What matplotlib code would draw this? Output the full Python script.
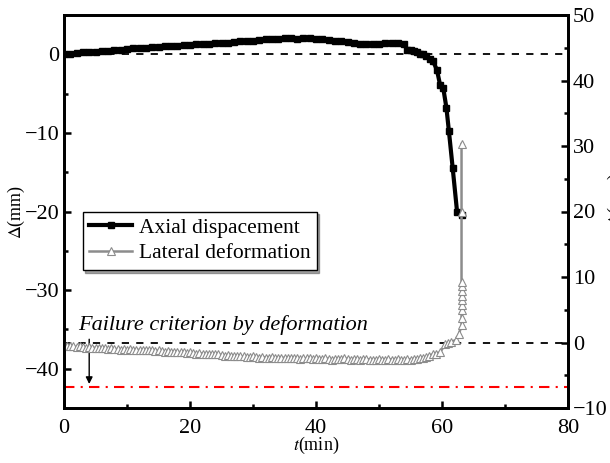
import matplotlib
matplotlib.use("Agg")
import matplotlib.pyplot as plt
import numpy as np

plt.rcParams['font.family'] = ['Liberation Serif', 'DejaVu Serif']
plt.rcParams['mathtext.fontset'] = 'stix'

# axial displacement (left axis, mm), 1-min samples on the flat part
axial_flat = [0.05, 0.1, 0.15, 0.25, 0.3, 0.35, 0.4, 0.45, 0.55, 0.6,
              0.7, 0.75, 0.8, 0.85, 0.9, 0.95, 1.0, 1.05, 1.1, 1.15,
              1.2, 1.25, 1.3, 1.35, 1.4, 1.45, 1.5, 1.6, 1.65, 1.7,
              1.75, 1.85, 1.9, 1.95, 2.0, 2.05, 2.05, 2.0, 2.05, 2.05,
              2.0, 1.9, 1.8, 1.75, 1.7, 1.6, 1.4, 1.3, 1.3, 1.3,
              1.35, 1.4, 1.45, 1.45, 1.3]
axial_drop_t = [54.5, 55.0, 55.5, 56.0, 56.5, 57.0, 57.5, 58.1, 58.6,
                59.2, 59.7, 60.2, 60.7, 61.1, 61.7, 62.4, 63.2]
axial_drop = [0.6, 0.55, 0.4, 0.3, 0.1, 0.0, -0.2, -0.55, -0.9,
              -2.0, -3.9, -4.3, -6.8, -9.8, -14.5, -20.1, -20.4]

# lateral deformation (right axis, mm), 0.5-min samples on the flat part
lateral_flat = [-0.3, -0.5, -0.6, -0.6, -0.7, -0.6, -0.7, -0.8, -0.7, -0.8, -0.8,
                -0.9, -0.8, -0.9, -1.0, -0.9, -1.0, -1.0, -1.1, -1.0, -1.1,
                -1.0, -1.1, -1.2, -1.1, -1.2, -1.2, -1.1, -1.2, -1.3, -1.2,
                -1.3, -1.4, -1.3, -1.4, -1.5, -1.4, -1.5, -1.5, -1.6, -1.5,
                -1.6, -1.7, -1.6, -1.7, -1.8, -1.7, -1.8, -1.8, -1.8, -1.9,
                -2.0, -1.9, -2.0, -2.1, -2.0, -2.1, -2.1, -2.2, -2.2, -2.1,
                -2.2, -2.3, -2.2, -2.3, -2.3, -2.2, -2.3, -2.3, -2.4, -2.3,
                -2.4, -2.4, -2.3, -2.4, -2.5, -2.4, -2.4, -2.4, -2.5, -2.4,
                -2.5, -2.5, -2.4, -2.5, -2.6, -2.5, -2.5, -2.5, -2.4, -2.5,
                -2.6, -2.5, -2.5, -2.6, -2.5, -2.5, -2.6, -2.6, -2.6, -2.5,
                -2.6, -2.6, -2.5, -2.6, -2.6, -2.5, -2.6, -2.6, -2.5, -2.6,
                -2.5, -2.5, -2.4, -2.3, -2.2, -2.0, -1.8, -1.7]
lateral_rise_t = [59.7, 60.5, 61.0, 61.5, 62.2, 62.7, 63.1, 63.1, 63.1, 63.1,
                  63.1, 63.1, 63.1, 63.1, 63.1, 63.1, 63.1]
lateral_rise = [-1.5, -0.3, -0.1, 0.1, 0.4, 1.3, 2.6, 3.8, 4.9, 5.7,
                6.5, 7.1, 7.8, 8.6, 9.2, 19.9, 30.3]

criterion = -42.3   # left axis value of the red line

t_ax = np.concatenate([np.arange(len(axial_flat)) * 1.0, axial_drop_t])
y_ax = np.concatenate([axial_flat, axial_drop])
t_lat = np.concatenate([np.arange(len(lateral_flat)) * 0.5, lateral_rise_t])
y_lat = np.concatenate([lateral_flat, lateral_rise])

fig = plt.figure(figsize=(6.1, 4.63), dpi=100)
ax = fig.add_axes([64/610, 1-408/463, 504/610, 393/463])
ax2 = ax.twinx()

# reference lines
ax.axhline(0, color='black', lw=1.3, ls=(0, (4, 4)), zorder=1)
ax2.axhline(0, color='black', lw=1.3, ls=(0, (4, 4)), zorder=1)
ax.axhline(criterion, color='red', lw=1.5, ls=(0, (5, 3, 1, 3)), zorder=1)

l1, = ax.plot(t_ax, y_ax, color='black', lw=3, marker='s', ms=4,
              label='Axial dispacement', zorder=3)
l2, = ax2.plot(t_lat, y_lat, color='#8c8c8c', lw=1.8, marker='^', ms=5.5,
               mfc='white', mec='#8c8c8c', mew=0.8, label='Lateral deformation')

ax.set_xlim(0, 80)
ax.set_ylim(-45, 5)
ax2.set_ylim(-10, 50)
ax.set_xticks([0, 20, 40, 60, 80])
ax.set_xticks([10, 30, 50, 70], minor=True)
ax.set_yticks([-40, -30, -20, -10, 0])
ax.set_yticks([-35, -25, -15, -5], minor=True)
ax2.set_yticks([-10, 0, 10, 20, 30, 40, 50])
ax2.set_yticks([-5, 5, 15, 25, 35, 45], minor=True)

for a in (ax, ax2):
    for s in a.spines.values():
        s.set_linewidth(2)
ax.tick_params(which='both', direction='in', labelsize=16, top=False, right=False)
ax.tick_params(axis='x', pad=8)
ax.tick_params(which='major', length=5, width=1.8)
ax.tick_params(which='minor', length=3, width=1.8)
ax2.tick_params(which='both', direction='in', labelsize=16)
ax2.tick_params(which='major', length=5, width=1.8)
ax2.tick_params(which='minor', length=3, width=1.8)

ax.set_xlabel('$\\mathit{t}$(min)', fontsize=13, labelpad=-2)
ax.set_ylabel('$\\mathit{\\Delta}$(mm)', fontsize=13, labelpad=-2)
# right-hand axis title, mostly outside the figure as in the original
fig.text(0.993, 0.57, '$\\mathit{\\Delta}$(mm)', fontsize=13, rotation=90,
         ha='left', va='center')

ax.text(2.3, -34.4, 'Failure criterion by deformation', fontsize=16,
        style='italic', va='center')
ax.annotate('', xy=(4, criterion), xytext=(4, -35.9),
            arrowprops=dict(arrowstyle='-|>', color='black', lw=1,
                            mutation_scale=10))

leg = ax.legend(handles=[l1, l2], loc='upper left', bbox_to_anchor=(0.037, 0.5),
                fontsize=15.5, numpoints=1, handlelength=2.0, handletextpad=0.3,
                borderpad=0.3, labelspacing=0.25, fancybox=False, shadow=True,
                edgecolor='black', framealpha=1, borderaxespad=0)
leg.get_frame().set_linewidth(1)

fig.savefig('out.png', dpi=100)
